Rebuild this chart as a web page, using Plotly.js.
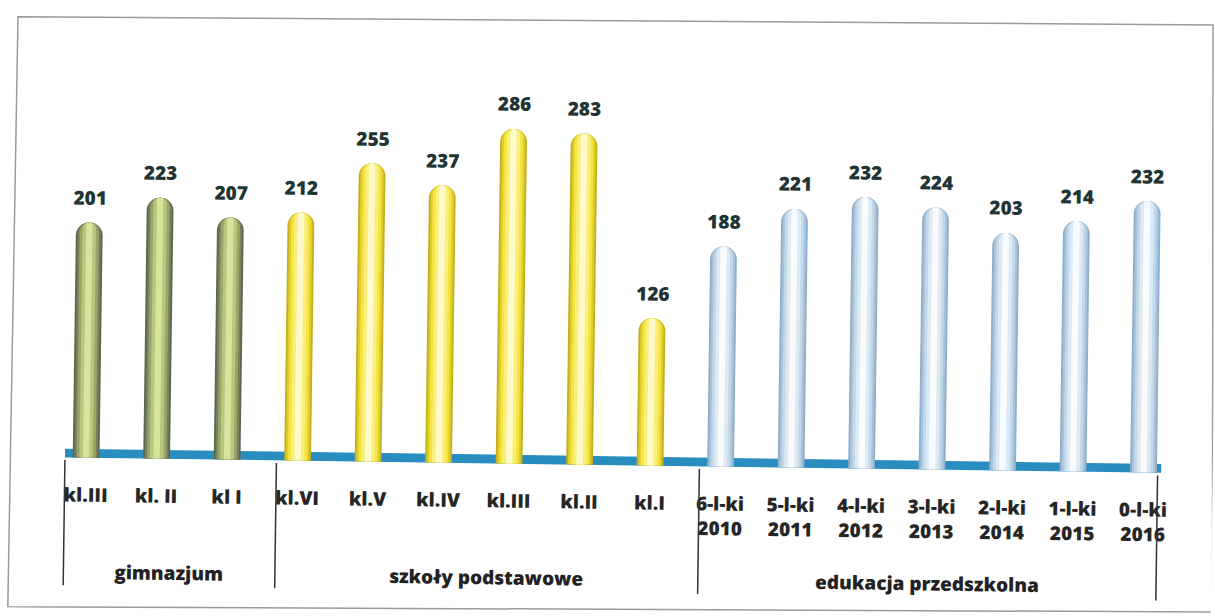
<!DOCTYPE html>
<html>
<head>
<meta charset="utf-8">
<script src="https://cdn.plot.ly/plotly-3.0.1.min.js"></script>
<style>
  html, body { margin: 0; padding: 0; background: #ffffff; overflow: hidden; }
  #chart { width: 1215px; height: 616px; transform: rotate(0.8deg); transform-origin: 50% 50%; }
</style>
</head>
<body>
<div id="chart"></div>
<script>
// ---- data ----
const groupNames = ["gimnazjum", "szkoły podstawowe", "edukacja przedszkolna"];
const gimLabels = ["kl.III", "kl. II", "kl I"];
const gimValues = [201, 223, 207];
const spLabels = ["kl.VI", "kl.V", "kl.IV", "kl.III", "kl.II", "kl.I"];
const spValues = [212, 255, 237, 286, 283, 126];
const przLabels = ["6-l-ki<br>2010", "5-l-ki<br>2011", "4-l-ki<br>2012", "3-l-ki<br>2013", "2-l-ki<br>2014", "1-l-ki<br>2015", "0-l-ki<br>2016"];
const przValues = [188, 221, 232, 224, 203, 214, 232];

// ---- styling ----
// shading layers from outer edge to inner highlight (cylinder look)
const layerWidths = [0.38, 0.33, 0.27, 0.19, 0.09];
const groupShades = [
  ["#5b6650", "#76825c", "#98a66a", "#b9c77e", "#d8e49e"],
  ["#c4ae1e", "#e0cc2a", "#f3e440", "#faef7c", "#fffaca"],
  ["#8eaec8", "#a9c4da", "#c3d8e8", "#dceaf4", "#f7fbfe"]
];
const FONT = "'Open Sans', Lato, sans-serif";

const groups = [
  { labels: gimLabels, values: gimValues },
  { labels: spLabels, values: spValues },
  { labels: przLabels, values: przValues }
];

const xs = [], ys = [], ticktext = [], groupIdx = [];
const spans = [];
let idx = 0;
groups.forEach((g, gi) => {
  const start = idx;
  g.values.forEach((v, i) => {
    xs.push(idx); ys.push(v); ticktext.push(g.labels[i]); groupIdx.push(gi);
    idx++;
  });
  spans.push([start, idx - 1]);
});

const traces = layerWidths.map((w, li) => ({
  type: "bar", x: xs, y: ys, width: w,
  marker: { color: groupIdx.map(gi => groupShades[gi][li]), cornerradius: "50%", line: { width: 0 } },
  hoverinfo: "skip", showlegend: false
}));

// value labels
const annotations = xs.map((x, i) => ({
  x: x, y: ys[i], xref: "x", yref: "y",
  text: String(ys[i]), showarrow: false,
  yanchor: "bottom", yshift: 10,
  font: { family: FONT, size: 19, color: "#1f3434", weight: 800 }
}));

// separators and group labels
const sepOffset = 0.2;
const seps = [spans[0][0] - 0.5 + sepOffset];
spans.forEach(s => seps.push(s[1] + 0.5 + sepOffset));
seps[seps.length - 1] = spans[2][1] + 0.2;

groupNames.forEach((name, gi) => {
  annotations.push({
    x: (seps[gi] + seps[gi + 1]) / 2, y: -0.263, xref: "x", yref: "paper",
    text: name, showarrow: false, yanchor: "middle",
    font: { family: FONT, size: 19, color: "#222222", weight: 800 }
  });
});

const shapes = [];
// floor
shapes.push({ type: "rect", xref: "x", yref: "y", x0: seps[0], x1: seps[3] + 0.05, y0: -1.5, y1: 7.5,
  fillcolor: "#2a8dc0", line: { width: 0 }, layer: "below" });
shapes.push({ type: "line", xref: "x", yref: "y", x0: seps[0], x1: seps[3] + 0.05, y0: -2.2, y1: -2.2,
  line: { color: "#8a8a8a", width: 1.5, dash: "dot" } });
seps.forEach(s => {
  shapes.push({ type: "line", xref: "x", yref: "paper", x0: s, x1: s, y0: -0.006, y1: -0.295,
    line: { color: "#333333", width: 1.5 } });
});
// outer frame (scanned page border)
shapes.push({ type: "path", xref: "paper", yref: "paper",
  path: "M -0.0346 1.0162 L 1.0248 1.0358 L 1.0316 -0.3199 L -0.0363 -0.3464 Z",
  line: { color: "#9a9a9a", width: 1.5 } });

const layout = {
  width: 1215, height: 616,
  margin: { l: 53, r: 34, t: 32, b: 151 },
  paper_bgcolor: "rgba(0,0,0,0)", plot_bgcolor: "rgba(0,0,0,0)",
  barmode: "overlay",
  xaxis: {
    range: [-0.5, 15.5], tickmode: "array", tickvals: xs, ticktext: ticktext,
    showgrid: false, zeroline: false, showline: false, ticks: "",
    ticklabelstandoff: 24,
    tickfont: { family: FONT, size: 19, color: "#262626", weight: 800 },
    fixedrange: true
  },
  yaxis: {
    range: [0, 370], visible: false, showgrid: false, zeroline: false, fixedrange: true
  },
  annotations: annotations,
  shapes: shapes,
  font: { family: FONT }
};

Plotly.newPlot("chart", traces, layout, { displayModeBar: false, staticPlot: true });
</script>
</body>
</html>
